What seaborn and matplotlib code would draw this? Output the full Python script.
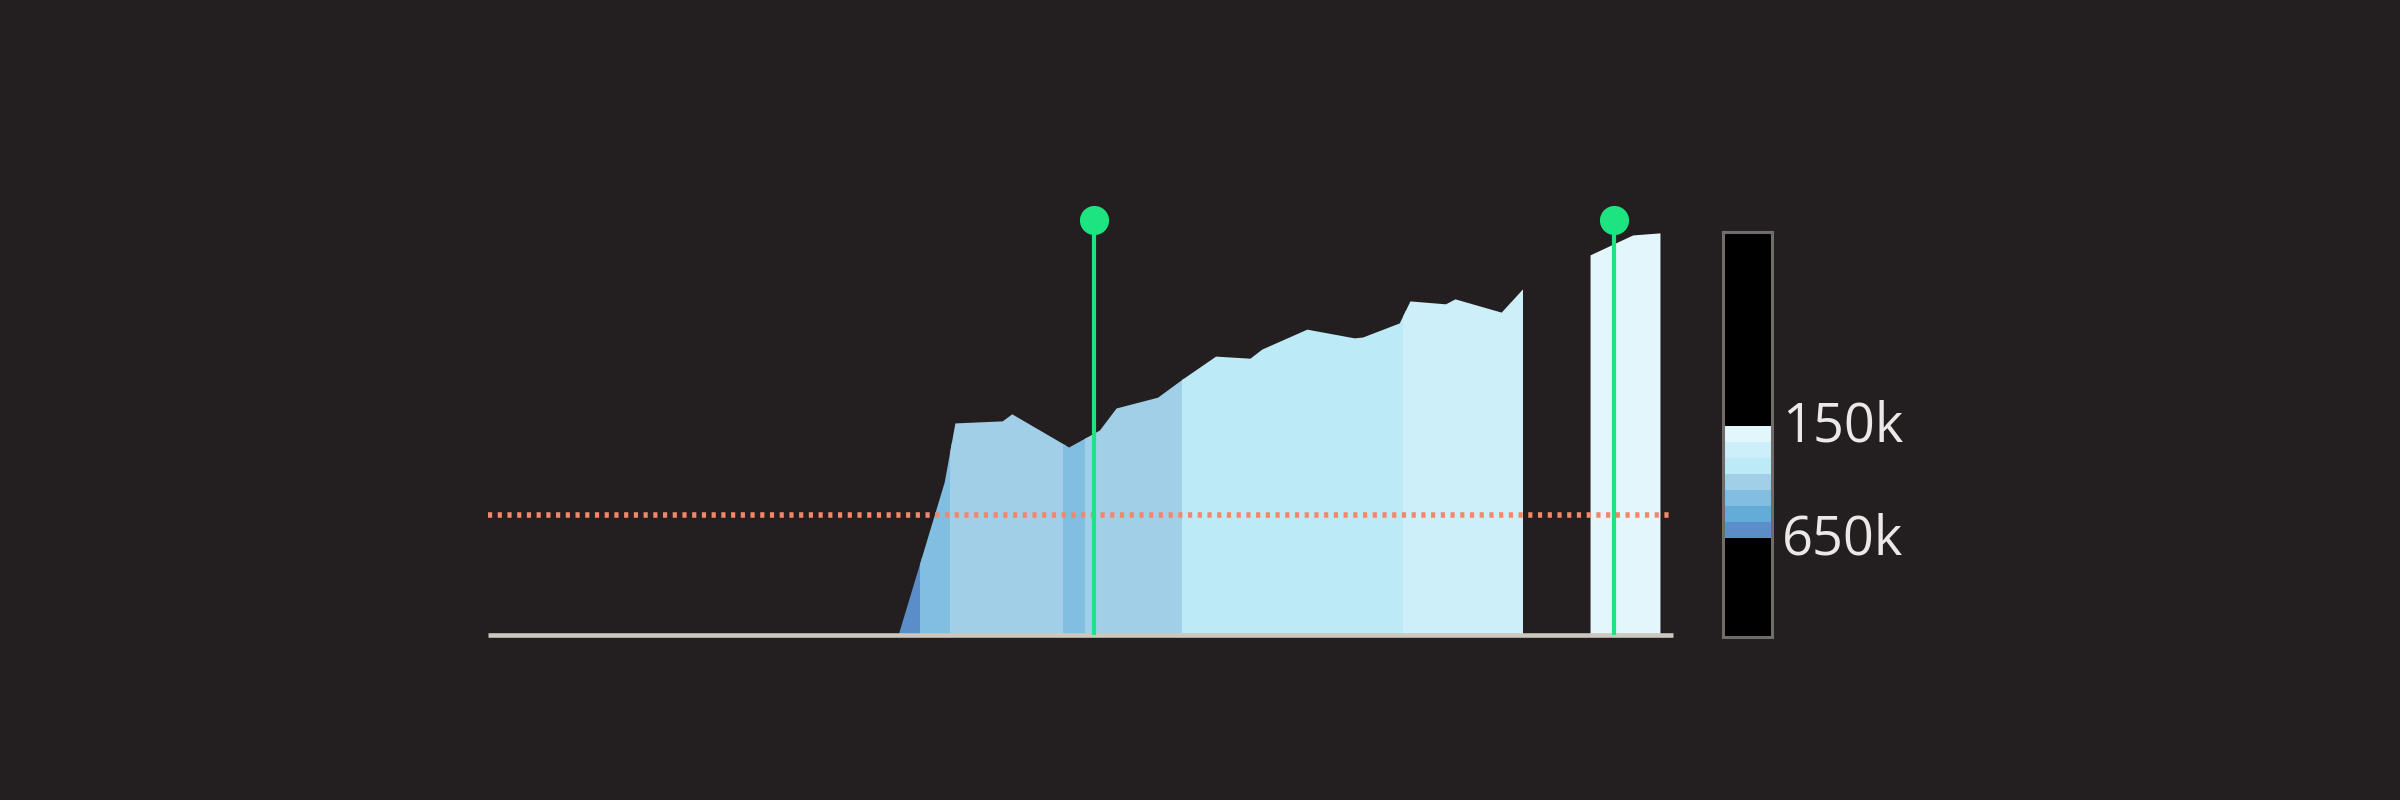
import numpy as np
import seaborn as sns
import matplotlib.pyplot as plt
from matplotlib.patches import Rectangle

# profile of the area (x in weeks, y in % of axis height)
x_main = [34.6, 38.5, 39.4, 43.4, 44.2, 49.0, 51.6, 53.0, 56.5, 58.6, 61.4,
          64.3, 65.3, 69.1, 73.1, 73.8, 76.9, 77.8, 80.8, 81.6, 85.5, 87.3]
y_main = [0.0, 36.9, 51.1, 51.6, 53.3, 45.3, 49.4, 54.7, 57.3, 61.7, 67.2,
          66.7, 68.9, 73.7, 71.6, 71.8, 75.2, 80.5, 79.8, 81.0, 77.8, 83.4]
x_tail = [93.0, 96.6, 98.9]
y_tail = [91.6, 96.4, 96.9]

# colour segments: start, end, value (k)
seg_start = [34.6, 36.5, 39.0, 48.6, 50.4, 58.6, 77.3, 93.0]
seg_end = [36.5, 39.0, 48.6, 50.4, 58.6, 77.3, 87.3, 98.9]
seg_value = [640, 490, 420, 490, 420, 350, 280, 200]

# legend bins (light -> dark)
bin_edges = [176, 247, 318, 389, 460, 531, 602, 672]
bin_colors = ["#e3f6fc", "#cdeff9", "#bcebf7", "#a2cfe8", "#82bee2", "#62acd7", "#5b8dc9"]
legend_ticks = [150, 650]
legend_labels = ["150k", "650k"]

marker_x = [51.1, 95.0]
ref_level = 28.8

bg = "#231f20"
sns.set_theme(style="dark", rc={"axes.facecolor": bg, "figure.facecolor": bg,
                                "savefig.facecolor": bg})
plt.rcParams['font.family'] = ['Open Sans', 'DejaVu Sans']

fig = plt.figure(figsize=(24, 8), dpi=100)
ax = fig.add_axes([488 / 2400, 165 / 800, 1185 / 2400, 415 / 800])
ax.set_xlim(0, 100)
ax.set_ylim(0, 100)
ax.set_axis_off()

for x0, x1, v in zip(seg_start, seg_end, seg_value):
    if x0 < x_tail[0]:
        xs, ys = x_main, y_main
    else:
        xs, ys = x_tail, y_tail
    idx = int(np.clip(np.digitize(v, bin_edges) - 1, 0, len(bin_colors) - 1))
    poly = ax.fill_between(xs, ys, 0, color=bin_colors[idx], lw=0, zorder=1)
    clip = Rectangle((x0 - 0.05, -5), x1 - x0 + 0.1, 110, transform=ax.transData)
    poly.set_clip_path(clip)

# reference rule and baseline
ax.axhline(ref_level, color="#f4866a", lw=4.0, ls=(0, (0.75, 1.0)),
           dash_capstyle="butt", zorder=3)
ax.axhline(0, color="#cdc8bf", lw=3.3, zorder=4, clip_on=False,
           solid_capstyle="butt")

# markers
green = "#1ee381"
ax.vlines(marker_x, 0, 100, color=green, lw=3.0, zorder=5)
sns.scatterplot(x=marker_x, y=np.full(len(marker_x), 100.0), ax=ax, color=green,
                s=440, linewidth=0, zorder=6, clip_on=False, legend=False)
ax.set_axis_off()

# legend box
cax = fig.add_axes([1723 / 2400, 163 / 800, 49 / 2400, 405 / 800])
cax.set_facecolor("black")
cax.set_xlim(0, 1)
cax.set_ylim(1110, -682)
for lo, hi, c in zip(bin_edges[:-1], bin_edges[1:], bin_colors):
    cax.axhspan(lo, hi, color=c, lw=0)
for s in cax.spines.values():
    s.set_visible(True)
    s.set_color("#6f6c6a")
    s.set_linewidth(2.2)
cax.set_xticks([])
cax.yaxis.tick_right()
cax.set_yticks(legend_ticks)
cax.set_yticklabels(legend_labels)
cax.tick_params(axis="y", length=0, pad=7, labelsize=39, labelcolor="#ebe9e7")
cax.grid(False)

fig.savefig("out.png", dpi=100)
